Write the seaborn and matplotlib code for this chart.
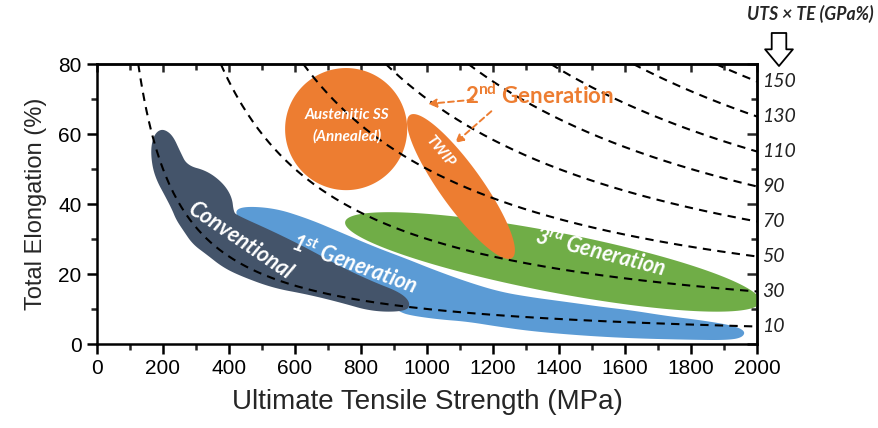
import numpy as np
import pandas as pd
import matplotlib
matplotlib.use("Agg")
import matplotlib.pyplot as plt
import seaborn as sns
from matplotlib.patches import Polygon
from matplotlib.ticker import MultipleLocator
from matplotlib.transforms import blended_transform_factory

# ---------------- data ----------------
iso_levels = [10, 30, 50, 70, 90, 110, 130, 150]          # UTS x TE (GPa%)

# Conventional steels region (UTS in MPa, TE in %)
conv_x = [185, 205, 230, 252, 273, 333, 382, 409, 414, 424, 533, 636, 736, 836, 918, 950,
          939, 836, 736, 636, 533, 433, 380, 333, 290, 261, 240, 227, 205, 182, 168, 163, 170]
conv_y = [61.0, 61.3, 59.5, 55.0, 51.0, 49.5, 46.0, 42.0, 37.8, 36.8, 32.2, 27.4, 22.2, 17.8, 14.8, 11.9,
          9.3, 9.2, 11.9, 14.2, 16.0, 19.5, 22.0, 25.5, 28.5, 32.5, 35.5, 38.5, 42.5, 46.5, 50.5, 55.4, 59.0]

# 1st generation AHSS region
gen1_x = [420, 533, 640, 736, 840, 939, 1018, 1120, 1221, 1320, 1424, 1530, 1620, 1727, 1830, 1927, 1965,
          1955, 1909, 1800, 1624, 1470, 1321, 1220, 1121, 1039, 960, 918, 860, 736, 636, 533, 425]
gen1_y = [39.3, 39.0, 35.8, 32.0, 27.8, 24.3, 21.3, 17.8, 14.9, 13.3, 12.0, 10.6, 9.6, 8.0, 6.8, 5.3, 3.7,
          1.8, 1.1, 1.2, 1.6, 2.4, 3.6, 4.9, 6.4, 7.0, 8.0, 9.0, 13.0, 19.3, 23.0, 28.7, 35.5]

# elliptical regions: end points of the major axis (UTS, TE) and minor/major ratio
gen3_ends = [752, 34.9, 2010, 12.0]
gen3_ratio = 0.142
twip_ends = [948, 65.4, 1258, 24.6]
twip_ratio = 0.24
ss_ends = [570, 61.4, 940, 61.4]
ss_ratio = 1.0

x_ticks = list(range(0, 2001, 200))
y_ticks = list(range(0, 81, 20))

# ---------------- colours ----------------
C_CONV = "#44546a"
C_GEN1 = "#5b9bd5"
C_ORNG = "#ed7d31"
C_GEN3 = "#70ad47"

sns.set_style("ticks")
plt.rcParams["font.family"] = ["Liberation Sans", "DejaVu Sans"]
plt.rcParams["mathtext.default"] = "regular"

fig = plt.figure(figsize=(8.79, 4.28), dpi=100)
ax = fig.add_axes([97 / 879, 84 / 428, 660 / 879, 280 / 428])
ax.set_xlim(0, 2000)
ax.set_ylim(0, 80)


def ellipse_poly(ends, ratio, n=200):
    p0 = ax.transData.transform((ends[0], ends[1]))
    p1 = ax.transData.transform((ends[2], ends[3]))
    c = (p0 + p1) / 2
    d = (p1 - p0) / 2
    a = np.hypot(*d)
    u = d / a
    v = np.array([-u[1], u[0]])
    t = np.linspace(0, 2 * np.pi, n)
    pts = c + np.outer(a * np.cos(t), u) + np.outer(a * ratio * np.sin(t), v)
    return ax.transData.inverted().transform(pts)


def smooth_poly(xs, ys, iters=4):
    """Chaikin corner cutting in display space for a closed outline."""
    pts = ax.transData.transform(np.column_stack([xs, ys]))
    for _ in range(iters):
        nxt = np.roll(pts, -1, axis=0)
        q = 0.75 * pts + 0.25 * nxt
        r = 0.25 * pts + 0.75 * nxt
        pts = np.empty((2 * len(q), 2))
        pts[0::2] = q
        pts[1::2] = r
    return ax.transData.inverted().transform(pts)


# regions
ax.add_patch(Polygon(ellipse_poly(gen3_ends, gen3_ratio), closed=True, fc=C_GEN3, ec="none", zorder=1))
ax.add_patch(Polygon(smooth_poly(gen1_x, gen1_y), closed=True, fc=C_GEN1, ec="none", zorder=1.2))
ax.add_patch(Polygon(smooth_poly(conv_x, conv_y), closed=True, fc=C_CONV, ec="none", zorder=1.4))
ax.add_patch(Polygon(ellipse_poly(ss_ends, ss_ratio), closed=True, fc=C_ORNG, ec="none", zorder=1.6))
ax.add_patch(Polygon(ellipse_poly(twip_ends, twip_ratio), closed=True, fc=C_ORNG, ec="none", zorder=1.7))

# iso UTS x TE curves
rows = []
for lev in iso_levels:
    xs = np.linspace(1000 * lev / 80, 2000, 300)
    rows.append(pd.DataFrame({"uts": xs, "te": 1000 * lev / xs, "level": lev}))
iso_df = pd.concat(rows, ignore_index=True)
sns.lineplot(data=iso_df, x="uts", y="te", hue="level", palette=["black"] * len(iso_levels),
             legend=False, estimator=None, sort=False, ax=ax, lw=1.5, zorder=3)
for ln in ax.lines:
    ln.set_linestyle((0, (4.0, 3.0)))

# axes styling
for s in ax.spines.values():
    s.set_linewidth(1.8)
    s.set_color("black")
    s.set_visible(True)
ax.set_xticks(x_ticks)
ax.set_yticks(y_ticks)
ax.xaxis.set_minor_locator(MultipleLocator(100))
ax.yaxis.set_minor_locator(MultipleLocator(10))
ax.tick_params(which="major", direction="out", length=7, width=1.8, labelsize=15, colors="black", pad=4)
ax.tick_params(which="minor", direction="out", length=4, width=1.8)
ax.set_xlabel("Ultimate Tensile Strength (MPa)", fontsize=20, labelpad=8)
ax.set_ylabel("Total Elongation (%)", fontsize=17, labelpad=8)

secx = ax.secondary_xaxis("top")
secx.set_xticks(x_ticks)
secx.xaxis.set_minor_locator(MultipleLocator(100))
secx.tick_params(which="major", direction="in", length=6, width=1.8, labeltop=False)
secx.tick_params(which="minor", direction="in", length=4, width=1.8)
secx.spines["top"].set_linewidth(1.8)

secy = ax.secondary_yaxis("right")
secy.set_yticks(y_ticks)
secy.yaxis.set_minor_locator(MultipleLocator(10))
secy.tick_params(which="major", direction="in", length=7, width=1.8, labelright=False)
secy.tick_params(which="minor", direction="in", length=4, width=1.8)
secy.spines["right"].set_linewidth(1.8)

# right-hand iso labels
btr = blended_transform_factory(ax.transAxes, ax.transData)
for lev in iso_levels:
    ax.text(1.008, lev / 2, str(lev), transform=btr, ha="left", va="center", fontsize=14,
            style="italic", family=["Lato", "DejaVu Sans"], color="#222222")

fig.text(810 / 879, 1 - 14 / 428, "UTS × TE (GPa%)", ha="center", va="center", fontsize=12.7,
         style="italic", weight="bold", family=["Lato", "DejaVu Sans"])
ax.annotate("", xy=(779, 428 - 66), xytext=(779, 428 - 33), xycoords="figure pixels",
            textcoords="figure pixels",
            arrowprops=dict(arrowstyle="simple,head_length=1.2,head_width=2.0,tail_width=1.05",
                            fc="white", ec="black", lw=1.3, shrinkA=0, shrinkB=0))

# region labels
lab = dict(color="white", weight="bold", style="italic", family=["Lato", "DejaVu Sans"],
           ha="center", va="center", zorder=5, rotation_mode="anchor")
ax.text(433, 29.5, "Conventional", fontsize=15.5, rotation=-34, **lab)
ax.text(780, 22.8, "1$^{st}$ Generation", fontsize=15.5, rotation=-20, **lab)
ax.text(1527, 26.3, "3$^{rd}$ Generation", fontsize=15.5, rotation=-14.5, **lab)
ax.text(758, 65.5, "Austenitic SS", fontsize=11, **lab)
ax.text(758, 59.3, "(Annealed)", fontsize=11, **lab)
ax.text(1040, 55, "TWIP", fontsize=11, rotation=-50, **lab)

ax.text(1342, 71.0, "2$^{nd}$ Generation", fontsize=16, color=C_ORNG, weight="bold",
        family=["Lato", "DejaVu Sans"], ha="center", va="center", zorder=5)
arr = dict(arrowstyle="-|>,head_length=0.5,head_width=0.25", color=C_ORNG, lw=1.4,
           linestyle=(0, (3, 2)), shrinkA=0, shrinkB=0)
ax.annotate("", xy=(1003, 68.6), xytext=(1140, 69.8), arrowprops=arr, zorder=5)
ax.annotate("", xy=(1085, 57.4), xytext=(1195, 66.5), arrowprops=arr, zorder=5)

fig.savefig("out.png", dpi=100)
